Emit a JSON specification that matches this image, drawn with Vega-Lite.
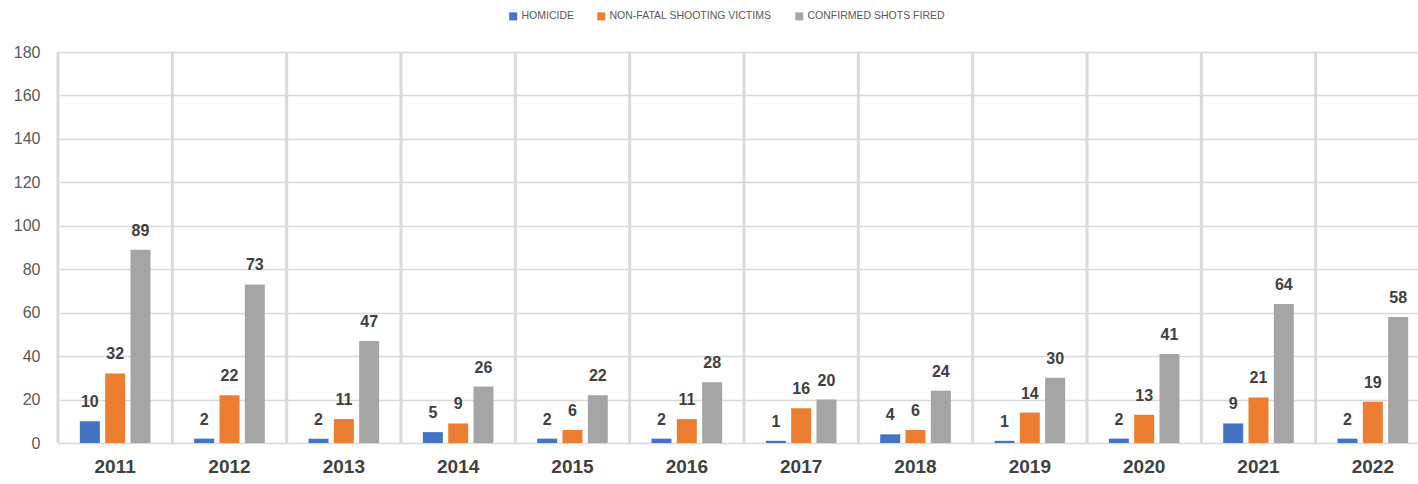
{
  "$schema": "https://vega.github.io/schema/vega-lite/v6.json",
  "width": 1360,
  "height": 391,
  "autosize": {"type": "none"},
  "padding": {"left": 58, "top": 52, "right": 0, "bottom": 41},
  "background": "white",
  "data": {
    "values": [
      {"year": "2011", "series": "HOMICIDE", "value": 10},
      {"year": "2011", "series": "NON-FATAL SHOOTING VICTIMS", "value": 32},
      {"year": "2011", "series": "CONFIRMED SHOTS FIRED", "value": 89},
      {"year": "2012", "series": "HOMICIDE", "value": 2},
      {"year": "2012", "series": "NON-FATAL SHOOTING VICTIMS", "value": 22},
      {"year": "2012", "series": "CONFIRMED SHOTS FIRED", "value": 73},
      {"year": "2013", "series": "HOMICIDE", "value": 2},
      {"year": "2013", "series": "NON-FATAL SHOOTING VICTIMS", "value": 11},
      {"year": "2013", "series": "CONFIRMED SHOTS FIRED", "value": 47},
      {"year": "2014", "series": "HOMICIDE", "value": 5},
      {"year": "2014", "series": "NON-FATAL SHOOTING VICTIMS", "value": 9},
      {"year": "2014", "series": "CONFIRMED SHOTS FIRED", "value": 26},
      {"year": "2015", "series": "HOMICIDE", "value": 2},
      {"year": "2015", "series": "NON-FATAL SHOOTING VICTIMS", "value": 6},
      {"year": "2015", "series": "CONFIRMED SHOTS FIRED", "value": 22},
      {"year": "2016", "series": "HOMICIDE", "value": 2},
      {"year": "2016", "series": "NON-FATAL SHOOTING VICTIMS", "value": 11},
      {"year": "2016", "series": "CONFIRMED SHOTS FIRED", "value": 28},
      {"year": "2017", "series": "HOMICIDE", "value": 1},
      {"year": "2017", "series": "NON-FATAL SHOOTING VICTIMS", "value": 16},
      {"year": "2017", "series": "CONFIRMED SHOTS FIRED", "value": 20},
      {"year": "2018", "series": "HOMICIDE", "value": 4},
      {"year": "2018", "series": "NON-FATAL SHOOTING VICTIMS", "value": 6},
      {"year": "2018", "series": "CONFIRMED SHOTS FIRED", "value": 24},
      {"year": "2019", "series": "HOMICIDE", "value": 1},
      {"year": "2019", "series": "NON-FATAL SHOOTING VICTIMS", "value": 14},
      {"year": "2019", "series": "CONFIRMED SHOTS FIRED", "value": 30},
      {"year": "2020", "series": "HOMICIDE", "value": 2},
      {"year": "2020", "series": "NON-FATAL SHOOTING VICTIMS", "value": 13},
      {"year": "2020", "series": "CONFIRMED SHOTS FIRED", "value": 41},
      {"year": "2021", "series": "HOMICIDE", "value": 9},
      {"year": "2021", "series": "NON-FATAL SHOOTING VICTIMS", "value": 21},
      {"year": "2021", "series": "CONFIRMED SHOTS FIRED", "value": 64},
      {"year": "2022", "series": "HOMICIDE", "value": 2},
      {"year": "2022", "series": "NON-FATAL SHOOTING VICTIMS", "value": 19},
      {"year": "2022", "series": "CONFIRMED SHOTS FIRED", "value": 58}
    ]
  },
  "encoding": {
    "x": {
      "field": "year",
      "type": "nominal",
      "scale": {"range": [0, 1372], "paddingInner": 0, "paddingOuter": 0},
      "axis": {
        "title": null,
        "labelAngle": 0,
        "domain": false,
        "ticks": false,
        "grid": false,
        "labelFont": "Liberation Sans",
        "labelFontSize": 19,
        "labelFontWeight": "bold",
        "labelColor": "#404040",
        "labelPadding": 14
      }
    }
  },
  "layer": [
    {
      "mark": {"type": "rule", "color": "#d9d9d9", "strokeWidth": 3},
      "transform": [{"filter": "datum.series === 'HOMICIDE'"}],
      "encoding": {
        "x": {"field": "year", "type": "nominal", "bandPosition": 0}
      }
    },
    {
      "mark": {"type": "bar"},
      "encoding": {
        "xOffset": {
          "field": "series",
          "type": "nominal",
          "scale": {
            "domain": ["HOMICIDE", "NON-FATAL SHOOTING VICTIMS", "CONFIRMED SHOTS FIRED"],
            "paddingInner": 0.21,
            "paddingOuter": 0.864
          }
        },
        "y": {
          "field": "value",
          "type": "quantitative",
          "scale": {"domain": [0, 180]},
          "axis": {
            "title": null,
            "values": [0, 20, 40, 60, 80, 100, 120, 140, 160, 180],
            "domain": false,
            "ticks": false,
            "gridColor": "#d9d9d9",
            "gridWidth": 1.5,
            "labelFont": "Liberation Sans",
            "labelFontSize": 16,
            "labelColor": "#595959",
            "labelPadding": 18
          }
        },
        "color": {
          "field": "series",
          "type": "nominal",
          "scale": {
            "domain": ["HOMICIDE", "NON-FATAL SHOOTING VICTIMS", "CONFIRMED SHOTS FIRED"],
            "range": ["#4472C4", "#ED7D31", "#A5A5A5"]
          },
          "legend": {
            "title": null,
            "orient": "none",
            "direction": "horizontal",
            "legendX": 450,
            "legendY": -41,
            "symbolType": "square",
            "symbolSize": 64,
            "symbolStrokeWidth": 0,
            "labelFont": "Liberation Sans",
            "labelFontSize": 10.5,
            "labelColor": "#595959",
            "labelLimit": 0,
            "labelOffset": 3,
            "columnPadding": 22
          }
        }
      }
    },
    {
      "mark": {
        "type": "text",
        "font": "Liberation Sans",
        "fontSize": 16,
        "fontWeight": "bold",
        "color": "#404040",
        "baseline": "alphabetic",
        "dy": -14
      },
      "encoding": {
        "xOffset": {"field": "series", "type": "nominal"},
        "y": {"field": "value", "type": "quantitative"},
        "text": {"field": "value", "type": "quantitative"}
      }
    }
  ],
  "config": {
    "view": {"stroke": null}
  }
}
